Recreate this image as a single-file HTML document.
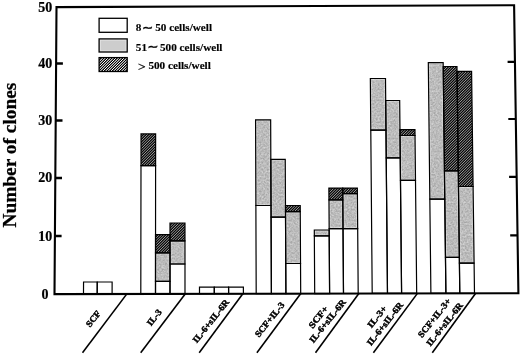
<!DOCTYPE html>
<html><head><meta charset="utf-8"><title>Number of clones</title>
<style>html,body{margin:0;padding:0;background:#fff;}svg{display:block;will-change:transform;filter:grayscale(1);-webkit-font-smoothing:antialiased}</style>
</head><body>
<svg width="520" height="356" viewBox="0 0 520 356">
<rect width="520" height="356" fill="#fff"/>
<filter id="nz" x="0" y="0" width="520" height="356" filterUnits="userSpaceOnUse" color-interpolation-filters="sRGB"><feTurbulence type="fractalNoise" baseFrequency="0.55" numOctaves="2" seed="7" result="t"/><feColorMatrix in="t" type="matrix" values="0 0 0 0 0  0 0 0 0 0  0 0 0 0 0  0.8 0 0 -0.3 0" result="a"/><feFlood flood-color="#fff" result="w"/><feComposite in="w" in2="a" operator="in" result="wn"/><feComposite in="wn" in2="SourceGraphic" operator="atop"/></filter>
<g filter="url(#nz)"><polygon points="155.53,252.8 170.01,252.8 170,281.4 155.51,281.4" fill="#c2c2c2"/>
<polygon points="157.03,254.3 168.51,254.3 168.5,279.9 157.01,279.9" fill="#a5a5a5"/>
<polygon points="170.01,240.9 184.97,240.9 184.99,264 170.01,264" fill="#c2c2c2"/>
<polygon points="171.51,242.4 183.48,242.4 183.48,262.5 171.51,262.5" fill="#a5a5a5"/>
<polygon points="255.58,119.8 270.66,119.8 271.02,205.5 255.88,205.5" fill="#c2c2c2"/>
<polygon points="257.08,121.3 269.17,121.3 269.52,204 257.38,204" fill="#a5a5a5"/>
<polygon points="270.83,159.3 285.24,159.3 285.53,217.1 271.07,217.1" fill="#c2c2c2"/>
<polygon points="272.34,160.8 283.75,160.8 284.02,215.6 272.57,215.6" fill="#a5a5a5"/>
<polygon points="285.5,211.6 300.25,211.6 300.53,263.5 285.75,263.5" fill="#c2c2c2"/>
<polygon points="287.01,213.1 298.75,213.1 299.02,262 287.24,262" fill="#a5a5a5"/>
<polygon points="314.31,230 329.17,230 329.21,235.8 314.34,235.8" fill="#c2c2c2"/>
<polygon points="315.82,231.5 327.68,231.5 327.7,234.3 315.83,234.3" fill="#a5a5a5"/>
<polygon points="328.96,199.8 342.8,199.8 343.02,228.6 329.16,228.6" fill="#c2c2c2"/>
<polygon points="330.47,201.3 341.32,201.3 341.51,227.1 330.65,227.1" fill="#a5a5a5"/>
<polygon points="342.76,193.6 357.39,193.6 357.68,228.6 343.02,228.6" fill="#c2c2c2"/>
<polygon points="344.27,195.1 355.91,195.1 356.16,227.1 344.51,227.1" fill="#a5a5a5"/>
<polygon points="370.34,78.5 385.5,78.5 385.98,130.1 370.79,130.1" fill="#c2c2c2"/>
<polygon points="371.85,80 384.01,80 384.46,128.6 372.27,128.6" fill="#a5a5a5"/>
<polygon points="385.7,100.5 399.68,100.5 400.25,157.9 386.23,157.9" fill="#c2c2c2"/>
<polygon points="387.21,102 398.2,102 398.74,156.4 387.72,156.4" fill="#a5a5a5"/>
<polygon points="400.03,135.5 415.02,135.5 415.5,180.4 400.47,180.4" fill="#c2c2c2"/>
<polygon points="401.54,137 413.54,137 413.98,178.9 401.96,178.9" fill="#a5a5a5"/>
<polygon points="428.31,62.7 443.16,62.7 444.78,199.2 429.84,199.2" fill="#c2c2c2"/>
<polygon points="429.83,64.2 441.68,64.2 443.26,197.7 431.32,197.7" fill="#a5a5a5"/>
<polygon points="444.44,170.8 458.27,170.8 459.34,257.4 445.47,257.4" fill="#c2c2c2"/>
<polygon points="445.96,172.3 456.79,172.3 457.83,255.9 446.95,255.9" fill="#a5a5a5"/>
<polygon points="458.46,186.5 473.09,186.5 474.1,263.2 459.42,263.2" fill="#c2c2c2"/>
<polygon points="459.98,188 471.61,188 472.58,261.7 460.9,261.7" fill="#a5a5a5"/></g>
<clipPath id="hc"><polygon points="141.03,133.9 155.63,133.9 155.6,165.6 140.99,165.6"/><polygon points="155.55,234.6 170.01,234.6 170.01,252.8 155.53,252.8"/><polygon points="170.01,223 184.97,223 184.97,240.9 170.01,240.9"/><polygon points="285.47,205.5 300.21,205.5 300.25,211.6 285.5,211.6"/><polygon points="328.88,188.1 342.72,188.1 342.8,199.8 328.96,199.8"/><polygon points="342.72,188.1 357.35,188.1 357.39,193.6 342.76,193.6"/><polygon points="399.97,129.6 414.96,129.6 415.02,135.5 400.03,135.5"/><polygon points="443.21,66.5 456.97,66.5 458.27,170.8 444.44,170.8"/><polygon points="457.03,71.3 471.59,71.3 473.09,186.5 458.46,186.5"/></clipPath>
<filter id="ct" x="0" y="0" width="520" height="356" filterUnits="userSpaceOnUse" color-interpolation-filters="sRGB"><feComponentTransfer><feFuncR type="linear" slope="2.4" intercept="-0.3"/><feFuncG type="linear" slope="2.4" intercept="-0.3"/><feFuncB type="linear" slope="2.4" intercept="-0.3"/></feComponentTransfer></filter>
<g filter="url(#ct)"><g clip-path="url(#hc)"><rect x="130" y="50" width="360" height="220" fill="#000"/><path d="M74 56L-130 260M75.6 56L-128.4 260M77.2 56L-126.8 260M78.8 56L-125.2 260M80.4 56L-123.6 260M82 56L-122 260M83.6 56L-120.4 260M85.2 56L-118.8 260M86.8 56L-117.2 260M88.4 56L-115.6 260M90 56L-114 260M91.6 56L-112.4 260M93.2 56L-110.8 260M94.8 56L-109.2 260M96.4 56L-107.6 260M98 56L-106 260M99.6 56L-104.4 260M101.2 56L-102.8 260M102.8 56L-101.2 260M104.4 56L-99.6 260M106 56L-98 260M107.6 56L-96.4 260M109.2 56L-94.8 260M110.8 56L-93.2 260M112.4 56L-91.6 260M114 56L-90 260M115.6 56L-88.4 260M117.2 56L-86.8 260M118.8 56L-85.2 260M120.4 56L-83.6 260M122 56L-82 260M123.6 56L-80.4 260M125.2 56L-78.8 260M126.8 56L-77.2 260M128.4 56L-75.6 260M130 56L-74 260M131.6 56L-72.4 260M133.2 56L-70.8 260M134.8 56L-69.2 260M136.4 56L-67.6 260M138 56L-66 260M139.6 56L-64.4 260M141.2 56L-62.8 260M142.8 56L-61.2 260M144.4 56L-59.6 260M146 56L-58 260M147.6 56L-56.4 260M149.2 56L-54.8 260M150.8 56L-53.2 260M152.4 56L-51.6 260M154 56L-50 260M155.6 56L-48.4 260M157.2 56L-46.8 260M158.8 56L-45.2 260M160.4 56L-43.6 260M162 56L-42 260M163.6 56L-40.4 260M165.2 56L-38.8 260M166.8 56L-37.2 260M168.4 56L-35.6 260M170 56L-34 260M171.6 56L-32.4 260M173.2 56L-30.8 260M174.8 56L-29.2 260M176.4 56L-27.6 260M178 56L-26 260M179.6 56L-24.4 260M181.2 56L-22.8 260M182.8 56L-21.2 260M184.4 56L-19.6 260M186 56L-18 260M187.6 56L-16.4 260M189.2 56L-14.8 260M190.8 56L-13.2 260M192.4 56L-11.6 260M194 56L-10 260M195.6 56L-8.4 260M197.2 56L-6.8 260M198.8 56L-5.2 260M200.4 56L-3.6 260M202 56L-2 260M203.6 56L-0.4 260M205.2 56L1.2 260M206.8 56L2.8 260M208.4 56L4.4 260M210 56L6 260M211.6 56L7.6 260M213.2 56L9.2 260M214.8 56L10.8 260M216.4 56L12.4 260M218 56L14 260M219.6 56L15.6 260M221.2 56L17.2 260M222.8 56L18.8 260M224.4 56L20.4 260M226 56L22 260M227.6 56L23.6 260M229.2 56L25.2 260M230.8 56L26.8 260M232.4 56L28.4 260M234 56L30 260M235.6 56L31.6 260M237.2 56L33.2 260M238.8 56L34.8 260M240.4 56L36.4 260M242 56L38 260M243.6 56L39.6 260M245.2 56L41.2 260M246.8 56L42.8 260M248.4 56L44.4 260M250 56L46 260M251.6 56L47.6 260M253.2 56L49.2 260M254.8 56L50.8 260M256.4 56L52.4 260M258 56L54 260M259.6 56L55.6 260M261.2 56L57.2 260M262.8 56L58.8 260M264.4 56L60.4 260M266 56L62 260M267.6 56L63.6 260M269.2 56L65.2 260M270.8 56L66.8 260M272.4 56L68.4 260M274 56L70 260M275.6 56L71.6 260M277.2 56L73.2 260M278.8 56L74.8 260M280.4 56L76.4 260M282 56L78 260M283.6 56L79.6 260M285.2 56L81.2 260M286.8 56L82.8 260M288.4 56L84.4 260M290 56L86 260M291.6 56L87.6 260M293.2 56L89.2 260M294.8 56L90.8 260M296.4 56L92.4 260M298 56L94 260M299.6 56L95.6 260M301.2 56L97.2 260M302.8 56L98.8 260M304.4 56L100.4 260M306 56L102 260M307.6 56L103.6 260M309.2 56L105.2 260M310.8 56L106.8 260M312.4 56L108.4 260M314 56L110 260M315.6 56L111.6 260M317.2 56L113.2 260M318.8 56L114.8 260M320.4 56L116.4 260M322 56L118 260M323.6 56L119.6 260M325.2 56L121.2 260M326.8 56L122.8 260M328.4 56L124.4 260M330 56L126 260M331.6 56L127.6 260M333.2 56L129.2 260M334.8 56L130.8 260M336.4 56L132.4 260M338 56L134 260M339.6 56L135.6 260M341.2 56L137.2 260M342.8 56L138.8 260M344.4 56L140.4 260M346 56L142 260M347.6 56L143.6 260M349.2 56L145.2 260M350.8 56L146.8 260M352.4 56L148.4 260M354 56L150 260M355.6 56L151.6 260M357.2 56L153.2 260M358.8 56L154.8 260M360.4 56L156.4 260M362 56L158 260M363.6 56L159.6 260M365.2 56L161.2 260M366.8 56L162.8 260M368.4 56L164.4 260M370 56L166 260M371.6 56L167.6 260M373.2 56L169.2 260M374.8 56L170.8 260M376.4 56L172.4 260M378 56L174 260M379.6 56L175.6 260M381.2 56L177.2 260M382.8 56L178.8 260M384.4 56L180.4 260M386 56L182 260M387.6 56L183.6 260M389.2 56L185.2 260M390.8 56L186.8 260M392.4 56L188.4 260M394 56L190 260M395.6 56L191.6 260M397.2 56L193.2 260M398.8 56L194.8 260M400.4 56L196.4 260M402 56L198 260M403.6 56L199.6 260M405.2 56L201.2 260M406.8 56L202.8 260M408.4 56L204.4 260M410 56L206 260M411.6 56L207.6 260M413.2 56L209.2 260M414.8 56L210.8 260M416.4 56L212.4 260M418 56L214 260M419.6 56L215.6 260M421.2 56L217.2 260M422.8 56L218.8 260M424.4 56L220.4 260M426 56L222 260M427.6 56L223.6 260M429.2 56L225.2 260M430.8 56L226.8 260M432.4 56L228.4 260M434 56L230 260M435.6 56L231.6 260M437.2 56L233.2 260M438.8 56L234.8 260M440.4 56L236.4 260M442 56L238 260M443.6 56L239.6 260M445.2 56L241.2 260M446.8 56L242.8 260M448.4 56L244.4 260M450 56L246 260M451.6 56L247.6 260M453.2 56L249.2 260M454.8 56L250.8 260M456.4 56L252.4 260M458 56L254 260M459.6 56L255.6 260M461.2 56L257.2 260M462.8 56L258.8 260M464.4 56L260.4 260M466 56L262 260M467.6 56L263.6 260M469.2 56L265.2 260M470.8 56L266.8 260M472.4 56L268.4 260M474 56L270 260M475.6 56L271.6 260M477.2 56L273.2 260M478.8 56L274.8 260M480.4 56L276.4 260M482 56L278 260M483.6 56L279.6 260M485.2 56L281.2 260M486.8 56L282.8 260M488.4 56L284.4 260M490 56L286 260M491.6 56L287.6 260M493.2 56L289.2 260M494.8 56L290.8 260M496.4 56L292.4 260M498 56L294 260M499.6 56L295.6 260M501.2 56L297.2 260M502.8 56L298.8 260M504.4 56L300.4 260M506 56L302 260M507.6 56L303.6 260M509.2 56L305.2 260M510.8 56L306.8 260M512.4 56L308.4 260M514 56L310 260M515.6 56L311.6 260M517.2 56L313.2 260M518.8 56L314.8 260M520.4 56L316.4 260M522 56L318 260M523.6 56L319.6 260M525.2 56L321.2 260M526.8 56L322.8 260M528.4 56L324.4 260M530 56L326 260M531.6 56L327.6 260M533.2 56L329.2 260M534.8 56L330.8 260M536.4 56L332.4 260M538 56L334 260M539.6 56L335.6 260M541.2 56L337.2 260M542.8 56L338.8 260M544.4 56L340.4 260M546 56L342 260M547.6 56L343.6 260M549.2 56L345.2 260M550.8 56L346.8 260M552.4 56L348.4 260M554 56L350 260M555.6 56L351.6 260M557.2 56L353.2 260M558.8 56L354.8 260M560.4 56L356.4 260M562 56L358 260M563.6 56L359.6 260M565.2 56L361.2 260M566.8 56L362.8 260M568.4 56L364.4 260M570 56L366 260M571.6 56L367.6 260M573.2 56L369.2 260M574.8 56L370.8 260M576.4 56L372.4 260M578 56L374 260M579.6 56L375.6 260M581.2 56L377.2 260M582.8 56L378.8 260M584.4 56L380.4 260M586 56L382 260M587.6 56L383.6 260M589.2 56L385.2 260M590.8 56L386.8 260M592.4 56L388.4 260M594 56L390 260M595.6 56L391.6 260M597.2 56L393.2 260M598.8 56L394.8 260M600.4 56L396.4 260M602 56L398 260M603.6 56L399.6 260M605.2 56L401.2 260M606.8 56L402.8 260M608.4 56L404.4 260M610 56L406 260M611.6 56L407.6 260M613.2 56L409.2 260M614.8 56L410.8 260M616.4 56L412.4 260M618 56L414 260M619.6 56L415.6 260M621.2 56L417.2 260M622.8 56L418.8 260M624.4 56L420.4 260M626 56L422 260M627.6 56L423.6 260M629.2 56L425.2 260M630.8 56L426.8 260M632.4 56L428.4 260M634 56L430 260M635.6 56L431.6 260M637.2 56L433.2 260M638.8 56L434.8 260M640.4 56L436.4 260M642 56L438 260M643.6 56L439.6 260M645.2 56L441.2 260M646.8 56L442.8 260M648.4 56L444.4 260M650 56L446 260M651.6 56L447.6 260M653.2 56L449.2 260M654.8 56L450.8 260M656.4 56L452.4 260M658 56L454 260M659.6 56L455.6 260M661.2 56L457.2 260M662.8 56L458.8 260M664.4 56L460.4 260M666 56L462 260M667.6 56L463.6 260M669.2 56L465.2 260M670.8 56L466.8 260M672.4 56L468.4 260M674 56L470 260M675.6 56L471.6 260M677.2 56L473.2 260M678.8 56L474.8 260M680.4 56L476.4 260M682 56L478 260M683.6 56L479.6 260M685.2 56L481.2 260M686.8 56L482.8 260M688.4 56L484.4 260M690 56L486 260M691.6 56L487.6 260M693.2 56L489.2 260M694.8 56L490.8 260M696.4 56L492.4 260M698 56L494 260M699.6 56L495.6 260M701.2 56L497.2 260M702.8 56L498.8 260M704.4 56L500.4 260M706 56L502 260M707.6 56L503.6 260M709.2 56L505.2 260M710.8 56L506.8 260M712.4 56L508.4 260M714 56L510 260M715.6 56L511.6 260M717.2 56L513.2 260M718.8 56L514.8 260M720.4 56L516.4 260M722 56L518 260M723.6 56L519.6 260M725.2 56L521.2 260M726.8 56L522.8 260M728.4 56L524.4 260M730 56L526 260M731.6 56L527.6 260M733.2 56L529.2 260" stroke="#fff" stroke-width="0.375" fill="none"/></g></g>
<g fill="none" stroke="#000" stroke-width="1.2"><polygon points="83.55,282 97.24,282 97.2,293.94 83.5,293.94"/>
<polygon points="97.24,282 112.13,282 112.1,293.91 97.2,293.91"/>
<polygon points="141.03,133.9 155.63,133.9 155.6,165.6 140.99,165.6"/>
<polygon points="140.99,165.6 155.6,165.6 155.5,293.84 140.8,293.84"/>
<polygon points="155.55,234.6 170.01,234.6 170.01,252.8 155.53,252.8"/>
<polygon points="155.53,252.8 170.01,252.8 170,281.4 155.51,281.4"/>
<polygon points="155.51,281.4 170,281.4 170,293.81 155.5,293.81"/>
<polygon points="170.01,223 184.97,223 184.97,240.9 170.01,240.9"/>
<polygon points="170.01,240.9 184.97,240.9 184.99,264 170.01,264"/>
<polygon points="170.01,264 184.99,264 185,293.79 170,293.79"/>
<polygon points="199.49,287.2 214.29,287.2 214.3,293.74 199.5,293.74"/>
<polygon points="214.29,287.2 228.58,287.2 228.6,293.71 214.3,293.71"/>
<polygon points="228.58,287.2 243.38,287.2 243.4,293.69 228.6,293.69"/>
<polygon points="255.58,119.8 270.66,119.8 271.02,205.5 255.88,205.5"/>
<polygon points="255.88,205.5 271.02,205.5 271.4,293.64 256.2,293.64"/>
<polygon points="270.83,159.3 285.24,159.3 285.53,217.1 271.07,217.1"/>
<polygon points="271.07,217.1 285.53,217.1 285.9,293.61 271.4,293.61"/>
<polygon points="285.47,205.5 300.21,205.5 300.25,211.6 285.5,211.6"/>
<polygon points="285.5,211.6 300.25,211.6 300.53,263.5 285.75,263.5"/>
<polygon points="285.75,263.5 300.53,263.5 300.7,293.59 285.9,293.59"/>
<polygon points="314.31,230 329.17,230 329.21,235.8 314.34,235.8"/>
<polygon points="314.34,235.8 329.21,235.8 329.6,293.54 314.7,293.54"/>
<polygon points="328.88,188.1 342.72,188.1 342.8,199.8 328.96,199.8"/>
<polygon points="328.96,199.8 342.8,199.8 343.02,228.6 329.16,228.6"/>
<polygon points="329.16,228.6 343.02,228.6 343.5,293.51 329.6,293.51"/>
<polygon points="342.72,188.1 357.35,188.1 357.39,193.6 342.76,193.6"/>
<polygon points="342.76,193.6 357.39,193.6 357.68,228.6 343.02,228.6"/>
<polygon points="343.02,228.6 357.68,228.6 358.2,293.49 343.5,293.49"/>
<polygon points="370.34,78.5 385.5,78.5 385.98,130.1 370.79,130.1"/>
<polygon points="370.79,130.1 385.98,130.1 387.49,293.44 372.2,293.44"/>
<polygon points="385.7,100.5 399.68,100.5 400.25,157.9 386.23,157.9"/>
<polygon points="386.23,157.9 400.25,157.9 401.59,293.41 387.49,293.41"/>
<polygon points="399.97,129.6 414.96,129.6 415.02,135.5 400.03,135.5"/>
<polygon points="400.03,135.5 415.02,135.5 415.5,180.4 400.47,180.4"/>
<polygon points="400.47,180.4 415.5,180.4 416.69,293.39 401.59,293.39"/>
<polygon points="428.31,62.7 443.16,62.7 444.78,199.2 429.84,199.2"/>
<polygon points="429.84,199.2 444.78,199.2 445.89,293.34 430.89,293.34"/>
<polygon points="443.21,66.5 456.97,66.5 458.27,170.8 444.44,170.8"/>
<polygon points="444.44,170.8 458.27,170.8 459.34,257.4 445.47,257.4"/>
<polygon points="445.47,257.4 459.34,257.4 459.79,293.31 445.89,293.31"/>
<polygon points="457.03,71.3 471.59,71.3 473.09,186.5 458.46,186.5"/>
<polygon points="458.46,186.5 473.09,186.5 474.1,263.2 459.42,263.2"/>
<polygon points="459.42,263.2 474.1,263.2 474.49,293.29 459.79,293.29"/></g>
<polygon points="56.5,7.1 514.1,5.3 518.4,293.2 54.5,294.1" fill="none" stroke="#000" stroke-width="2.1" stroke-linejoin="miter"/>
<line x1="56.1" y1="63.5" x2="62.9" y2="63.48" stroke="#000" stroke-width="2.3"/>
<line x1="55.7" y1="120.5" x2="62.5" y2="120.48" stroke="#000" stroke-width="2.3"/>
<line x1="55.2" y1="178" x2="62" y2="177.98" stroke="#000" stroke-width="2.3"/>
<line x1="54.8" y1="236" x2="61.6" y2="235.98" stroke="#000" stroke-width="2.3"/>
<line x1="515" y1="61.9" x2="507.6" y2="61.92" stroke="#000" stroke-width="2.2"/>
<line x1="515.7" y1="119" x2="508.3" y2="119.02" stroke="#000" stroke-width="2.2"/>
<line x1="516.5" y1="176.8" x2="509.1" y2="176.82" stroke="#000" stroke-width="2.2"/>
<line x1="517.6" y1="235.4" x2="510.2" y2="235.42" stroke="#000" stroke-width="2.2"/>
<line x1="126.87" y1="293.88" x2="82.5" y2="352.7" stroke="#000" stroke-width="1.6"/>
<line x1="185.35" y1="293.78" x2="140.7" y2="352.7" stroke="#000" stroke-width="1.6"/>
<line x1="242.81" y1="293.68" x2="199.2" y2="352.7" stroke="#000" stroke-width="1.6"/>
<line x1="300.79" y1="293.58" x2="256.9" y2="352.7" stroke="#000" stroke-width="1.6"/>
<line x1="358.85" y1="293.48" x2="315.5" y2="352.7" stroke="#000" stroke-width="1.6"/>
<line x1="417.43" y1="293.38" x2="373.4" y2="352.7" stroke="#000" stroke-width="1.6"/>
<line x1="475.69" y1="293.28" x2="432.3" y2="352.7" stroke="#000" stroke-width="1.6"/>
<g font-family="'Liberation Serif', 'DejaVu Serif', serif" font-weight="bold" fill="#000">
<text x="52.3" y="12" font-size="14" text-anchor="end" stroke="#000" stroke-width="0.2">50</text>
<text x="52.3" y="68.4" font-size="14" text-anchor="end" stroke="#000" stroke-width="0.2">40</text>
<text x="52.3" y="125.1" font-size="14" text-anchor="end" stroke="#000" stroke-width="0.2">30</text>
<text x="52.3" y="182.4" font-size="14" text-anchor="end" stroke="#000" stroke-width="0.2">20</text>
<text x="52.3" y="240.7" font-size="14" text-anchor="end" stroke="#000" stroke-width="0.2">10</text>
<text x="45" y="298.5" font-size="14" text-anchor="middle" stroke="#000" stroke-width="0.2">0</text>
<text transform="translate(16,227.6) rotate(-90)" font-size="19" stroke="#000" stroke-width="0.25" textLength="145" lengthAdjust="spacingAndGlyphs">Number of clones</text>
<rect x="99.1" y="18.3" width="28.1" height="14" fill="#fff" stroke="#000" stroke-width="1.3"/>
<rect x="99.1" y="38.9" width="28.1" height="13.1" fill="#e6e6e6"/>
<rect x="100.7" y="40.5" width="24.9" height="9.9" fill="#cdcdcd"/>
<rect x="99.1" y="38.9" width="28.1" height="13.1" fill="none" stroke="#000" stroke-width="1.3"/>
<clipPath id="lc"><rect x="99.1" y="57.6" width="28.1" height="13.9"/></clipPath>
<filter id="ct2" x="90" y="50" width="50" height="30" filterUnits="userSpaceOnUse" color-interpolation-filters="sRGB"><feComponentTransfer><feFuncR type="linear" slope="3.6" intercept="-0.72"/><feFuncG type="linear" slope="3.6" intercept="-0.72"/><feFuncB type="linear" slope="3.6" intercept="-0.72"/></feComponentTransfer></filter>
<g filter="url(#ct2)"><g clip-path="url(#lc)"><rect x="95" y="55" width="40" height="20" fill="#000"/><path d="M95 55L75 75M96.6 55L76.6 75M98.2 55L78.2 75M99.8 55L79.8 75M101.4 55L81.4 75M103 55L83 75M104.6 55L84.6 75M106.2 55L86.2 75M107.8 55L87.8 75M109.4 55L89.4 75M111 55L91 75M112.6 55L92.6 75M114.2 55L94.2 75M115.8 55L95.8 75M117.4 55L97.4 75M119 55L99 75M120.6 55L100.6 75M122.2 55L102.2 75M123.8 55L103.8 75M125.4 55L105.4 75M127 55L107 75M128.6 55L108.6 75M130.2 55L110.2 75M131.8 55L111.8 75M133.4 55L113.4 75M135 55L115 75M136.6 55L116.6 75M138.2 55L118.2 75M139.8 55L119.8 75M141.4 55L121.4 75M143 55L123 75M144.6 55L124.6 75M146.2 55L126.2 75M147.8 55L127.8 75M149.4 55L129.4 75" stroke="#fff" stroke-width="0.52" fill="none"/></g></g>
<rect x="99.1" y="57.6" width="28.1" height="13.9" fill="none" stroke="#000" stroke-width="1.3"/>
<text font-size="11.2" y="30.9" stroke="#000" stroke-width="0.15"><tspan x="135.8">8</tspan><tspan x="141.9" font-size="13.5" font-family="'DejaVu Sans', 'DejaVu Serif', sans-serif" font-weight="normal" stroke="#000" stroke-width="0.35" dy="0.9">∼</tspan><tspan x="155.2" dy="-0.9">50 cells/well</tspan></text>
<text font-size="11.2" y="50.5" stroke="#000" stroke-width="0.15"><tspan x="135.8">51</tspan><tspan x="147.3" font-size="13.5" font-family="'DejaVu Sans', 'DejaVu Serif', sans-serif" font-weight="normal" stroke="#000" stroke-width="0.35" dy="0.9">∼</tspan><tspan x="160" dy="-0.9">500 cells/well</tspan></text>
<text font-size="11.2" y="69.4" stroke="#000" stroke-width="0.15"><tspan x="138" font-weight="normal" font-size="13.5" stroke-width="0.3" dy="1.1">&gt;</tspan><tspan x="148.4" dy="-1.1">500 cells/well</tspan></text>
<text transform="translate(93.3,318.85) rotate(-51.5) scale(1.07,1)" font-size="9" text-anchor="middle" dominant-baseline="central" stroke="#000" stroke-width="0.45">SCF</text>
<text transform="translate(154.4,317.55) rotate(-51.5) scale(1.07,1)" font-size="9" text-anchor="middle" dominant-baseline="central" stroke="#000" stroke-width="0.45">IL-3</text>
<text transform="translate(210.9,321.05) rotate(-51.5) scale(1.07,1)" font-size="9" text-anchor="middle" dominant-baseline="central" stroke="#000" stroke-width="0.45">IL-6+sIL-6R</text>
<text transform="translate(269.7,319.65) rotate(-51.5) scale(1.07,1)" font-size="9" text-anchor="middle" dominant-baseline="central" stroke="#000" stroke-width="0.45">SCF+IL-3</text>
<text transform="translate(318.1,316.85) rotate(-51.5) scale(1.16,1)" font-size="9" text-anchor="middle" dominant-baseline="central" stroke="#000" stroke-width="0.45">SCF+</text>
<text transform="translate(327.6,321.05) rotate(-51.5) scale(1.07,1)" font-size="9" text-anchor="middle" dominant-baseline="central" stroke="#000" stroke-width="0.45">IL-6+sIL-6R</text>
<text transform="translate(377,316.5) rotate(-51.5) scale(1.16,1)" font-size="9" text-anchor="middle" dominant-baseline="central" stroke="#000" stroke-width="0.45">IL-3+</text>
<text transform="translate(385,323.85) rotate(-51.5) scale(1.07,1)" font-size="9" text-anchor="middle" dominant-baseline="central" stroke="#000" stroke-width="0.45">IL-6+sIL-6R</text>
<text transform="translate(434.5,317.85) rotate(-51.5) scale(1.07,1)" font-size="9" text-anchor="middle" dominant-baseline="central" stroke="#000" stroke-width="0.45">SCF+IL-3+</text>
<text transform="translate(444.6,324.35) rotate(-51.5) scale(1.07,1)" font-size="9" text-anchor="middle" dominant-baseline="central" stroke="#000" stroke-width="0.45">IL-6+sIL-6R</text>
</g>
</svg>
</body></html>
